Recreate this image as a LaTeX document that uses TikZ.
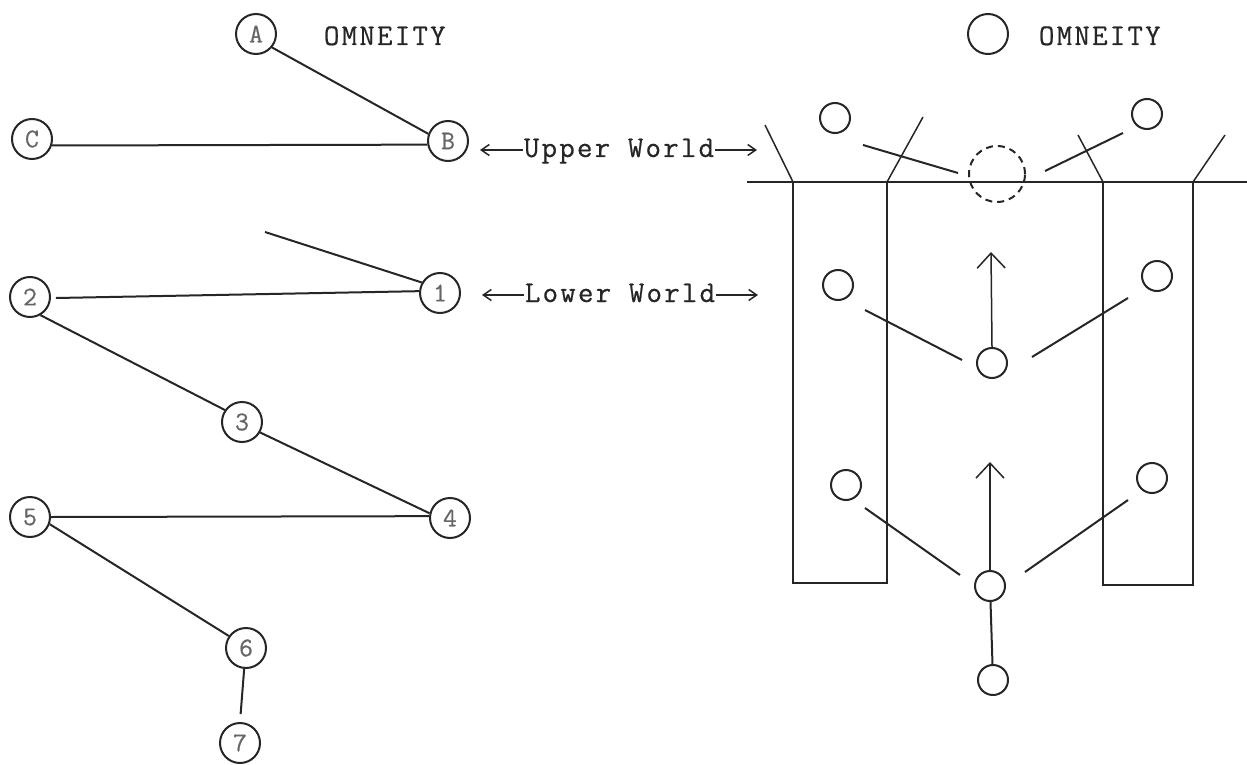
\documentclass[tikz,border=0pt]{standalone}
\usepackage{fontspec}
\setmonofont{Latin Modern Mono}[LetterSpace=7.5,FakeBold=0.6]
\usetikzlibrary{arrows.meta}
\begin{document}
\begin{tikzpicture}[x=1pt,y=-1pt,line width=2pt,draw=black!85,
  lbl/.style={font=\fontsize{30}{30}\selectfont\ttfamily,inner sep=0pt,text=black!85},
  nd/.style={circle,draw,inner sep=0pt,minimum size=40pt,font=\fontsize{27}{27}\selectfont\ttfamily,text=black!60},
  sm/.style={circle,draw,inner sep=0pt,minimum size=30pt},
  thin line/.style={line width=1.5pt},
  wtip/.style={-{Straight Barb[length=8pt,width=11pt,line width=1.5pt]},line width=1.5pt},
  uptip/.style={-{Straight Barb[length=15pt,width=28pt,line width=1.5pt]},line width=1.5pt}]
\useasboundingbox (0,0) rectangle (1247,765);

% ---------- left graph ----------
\node[nd] (nA) at (256,34) {A};
\node[nd] (nB) at (448,141) {B};
\node[nd] (nC) at (32,139) {C};
\node[nd] (n1) at (440,293) {1};
\node[nd] (n2) at (30,297) {2};
\node[nd] (n3) at (242,422) {3};
\node[nd] (n4) at (450,518) {4};
\node[nd] (n5) at (30,517) {5};
\node[nd] (n6) at (246,648) {6};
\node[nd] (n7) at (240,743) {7};
\coordinate (free1) at (265,232);

\draw (nA.-40) -- (nB.160);
\draw (nC.-18) -- (nB.190);
\draw (free1) -- (n1.150);
\draw[shorten <=5pt] (n2.-3) -- (n1.175);
\draw (n2.-60) -- (n3.145);
\draw (n3.-30) -- (n4.167);
\draw (n5.0) -- (n4.175);
\draw (n5.-20) -- (n6.145);
\draw[shorten >=8pt] (n6.-95) -- (n7.90);

\node[lbl,anchor=base west] (om1) at (323,45) {OMNEITY};

% world labels
\node[lbl,anchor=base] (uw) at (619,157) {Upper World};
\node[lbl,anchor=base] (lw) at (620,302) {Lower World};
\coordinate (uwl) at (480,150);
\coordinate (uwr) at (757,150);
\coordinate (lwl) at (482,295);
\coordinate (lwr) at (758,295);
\draw[wtip] (uw.west |- uwl) -- (uwl);
\draw[wtip] (uw.east |- uwr) -- (uwr);
\draw[wtip] (lw.west |- lwl) -- (lwl);
\draw[wtip] (lw.east |- lwr) -- (lwr);

% ---------- right scene ----------
\node[circle,draw,inner sep=0pt,minimum size=40pt] (o0) at (988,34) {};
\node[lbl,anchor=base west] (om2) at (1038,45) {OMNEITY};

\draw[thin line] (747,182) -- (1247,182);
\draw[thin line] (793,182) -- (793,583) -- (887,583) -- (887,182);
\draw[thin line] (1103,182) -- (1103,585) -- (1193,585) -- (1193,182);
\draw[thin line] (765,125) -- (793,182);
\draw[thin line] (887,182) -- (923,117);
\draw[thin line] (1078,135) -- (1103,182);
\draw[thin line] (1193,182) -- (1225,135);

\node[sm] (u1) at (835,118) {};
\node[sm] (u2) at (1147,114) {};
\node[circle,draw,dash pattern=on 7pt off 5pt,inner sep=0pt,minimum size=56pt] (d0) at (997,174) {};
\coordinate (a1) at (863,145); \coordinate (a2) at (958,173);
\coordinate (b1) at (1045,171); \coordinate (b2) at (1123,133);
\draw (a1) -- (a2);
\draw (b1) -- (b2);

\node[sm] (l1) at (838,285) {};
\node[sm] (l2) at (1157,276) {};
\node[sm] (c1) at (992,363) {};
\coordinate (t1) at (991,252);
\draw[uptip] (c1.north) -- (t1);
\coordinate (e1) at (865,310); \coordinate (e2) at (962,360);
\coordinate (f1) at (1032,357); \coordinate (f2) at (1128,298);
\draw (e1) -- (e2);
\draw (f1) -- (f2);

\node[sm] (m1) at (846,485) {};
\node[sm] (m2) at (1152,478) {};
\node[sm] (c2) at (990,586) {};
\coordinate (t2) at (990,462);
\draw[uptip] (c2.north) -- (t2);
\coordinate (g1) at (865,508); \coordinate (g2) at (960,575);
\coordinate (h1) at (1025,572); \coordinate (h2) at (1128,500);
\draw (g1) -- (g2);
\draw (h1) -- (h2);

\node[sm] (c3) at (993,680) {};
\draw (c2) -- (c3);
\end{tikzpicture}
\end{document}
